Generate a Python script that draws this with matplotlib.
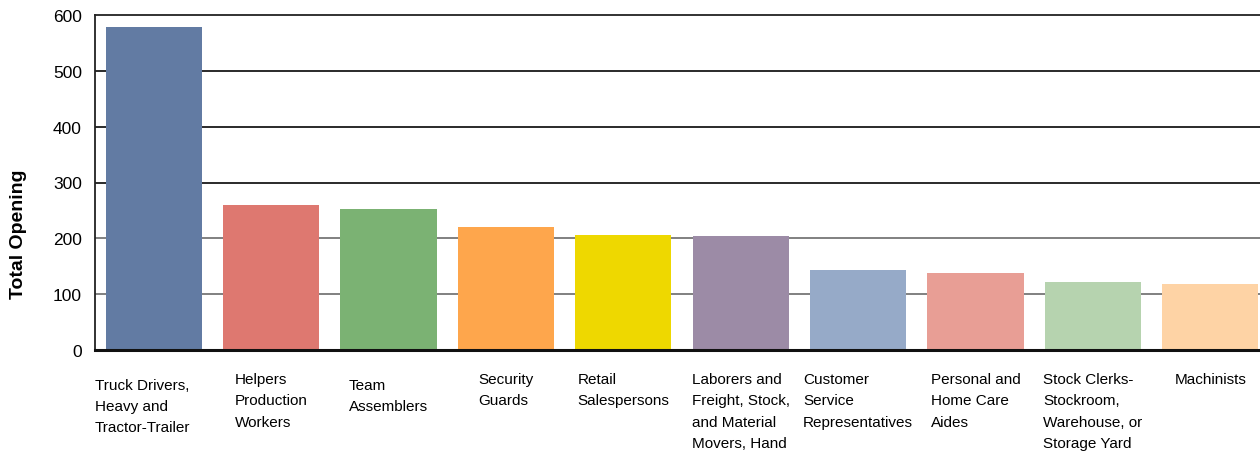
import matplotlib.pyplot as plt

plt.rcParams['font.family'] = ['Liberation Sans', 'DejaVu Sans']

# data
jobs = ["Truck Drivers,\nHeavy and\nTractor-Trailer",
        "Helpers\nProduction\nWorkers",
        "Team\nAssemblers",
        "Security\nGuards",
        "Retail\nSalespersons",
        "Laborers and\nFreight, Stock,\nand Material\nMovers, Hand",
        "Customer\nService\nRepresentatives",
        "Personal and\nHome Care\nAides",
        "Stock Clerks-\nStockroom,\nWarehouse, or\nStorage Yard",
        "Machinists"]
openings = [578, 260, 252, 220, 206, 204, 143, 138, 122, 118]
colors = ["#627ba3", "#de7870", "#7bb273", "#fea64c", "#eed800",
          "#9c8ba6", "#96aac8", "#e89e95", "#b6d3af", "#fed3a5"]
yticks = [0, 100, 200, 300, 400, 500, 600]

W, H = 1260, 452
fig = plt.figure(figsize=(W / 100, H / 100), dpi=100)
# axes runs a little past the right edge of the picture, like the original crop
left, right, top, bottom = 95, 1269, 16, 351
ax = fig.add_axes([left / W, 1 - bottom / H, (right - left) / W, (bottom - top) / H])

x = list(range(len(openings)))
ax.bar(x, openings, width=0.818, color=colors, zorder=2)

for v in yticks[1:-1]:
    c = "#2a2a2a" if v >= 300 else "#808080"
    ax.axhline(v, color=c, lw=1.4, zorder=1)

ax.set_xlim(-0.5, len(openings) - 0.5)
ax.set_ylim(0, 600)
ax.set_yticks(yticks)
ax.tick_params(axis='y', length=0, pad=9.5, labelsize=12.5)
ax.set_xticks([])

for s in ['left', 'top', 'right']:
    ax.spines[s].set_color("#222222")
    ax.spines[s].set_linewidth(1.3)
ax.spines['bottom'].set_color("#111111")
ax.spines['bottom'].set_linewidth(2.2)

# category labels under each bar, block centred, lines left aligned
for i, name in enumerate(jobs):
    dx = -8 if i == 0 else 0   # first label sits a bit further left
    dy = -20 if i in (0, 2) else -16
    ax.annotate(name, xy=(i, 0), xycoords='data', xytext=(dx, dy),
                textcoords='offset points', ha='center', va='top',
                multialignment='left', fontsize=11, linespacing=1.65,
                annotation_clip=False)

fig.text(19 / W, 1 - 234 / H, "Total Opening", rotation=90, ha='center',
         va='center', fontsize=14, fontweight='bold')

fig.savefig("out.png", dpi=100)
